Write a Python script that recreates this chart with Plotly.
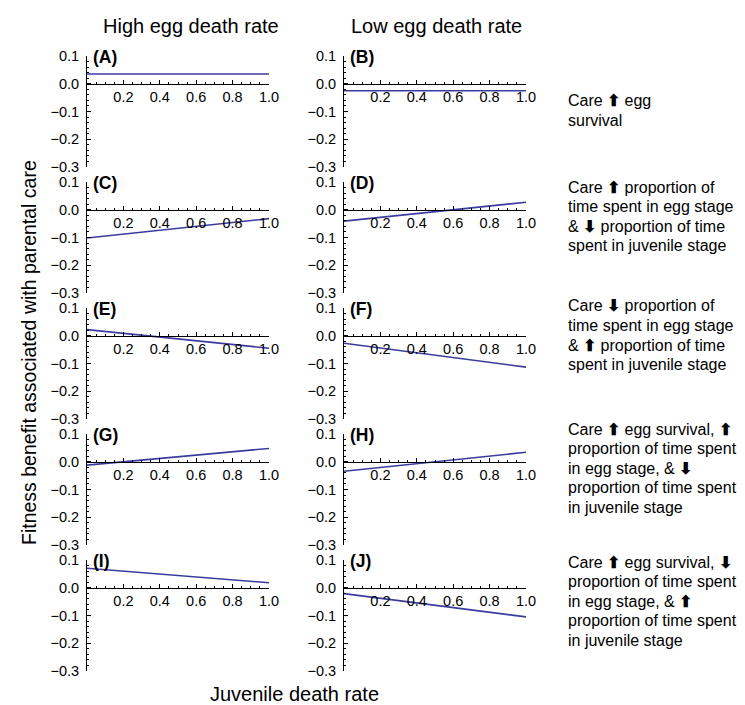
import plotly.graph_objects as go

# ---- data ----
juvenile_death_rate = [0.0, 0.5, 1.0]
panel_labels = ["(A)", "(B)", "(C)", "(D)", "(E)", "(F)", "(G)", "(H)", "(I)", "(J)"]
panel_A = [0.035, 0.035, 0.035]
panel_B = [-0.025, -0.025, -0.025]
panel_C = [-0.102, -0.068, -0.032]
panel_D = [-0.041, -0.007, 0.027]
panel_E = [0.022, -0.012, -0.045]
panel_F = [-0.027, -0.070, -0.113]
panel_G = [-0.012, 0.018, 0.048]
panel_H = [-0.034, 0.000, 0.034]
panel_I = [0.070, 0.044, 0.018]
panel_J = [-0.021, -0.062, -0.105]
series = [panel_A, panel_B, panel_C, panel_D, panel_E,
          panel_F, panel_G, panel_H, panel_I, panel_J]

column_titles = ["High egg death rate", "Low egg death rate"]
x_tick_vals = [0.2, 0.4, 0.6, 0.8, 1.0]
x_tick_text = ["0.2", "0.4", "0.6", "0.8", "1.0"]
y_tick_vals = [-0.3, -0.2, -0.1, 0.0, 0.1]
y_tick_text = ["\u22120.3", "\u22120.2", "\u22120.1", "0.0", "0.1"]
UP = "<b>\u2b06</b>"
DN = "<b>\u2b07</b>"
row_notes = [
    [f"Care {UP} egg", "survival"],
    [f"Care {UP} proportion of", "time spent in egg stage",
     f"& {DN} proportion of time", "spent in juvenile stage"],
    [f"Care {DN} proportion of", "time spent in egg stage",
     f"& {UP} proportion of time", "spent in juvenile stage"],
    [f"Care {UP} egg survival, {UP}", "proportion of time spent",
     f"in egg stage, & {DN}", "proportion of time spent", "in juvenile stage"],
    [f"Care {UP} egg survival, {DN}", "proportion of time spent",
     f"in egg stage, & {UP}", "proportion of time spent", "in juvenile stage"],
]

# ---- layout geometry (pixels) ----
W, H = 745, 705
FONT = "Liberation Sans, Arial, Helvetica, sans-serif"
col_x0 = [79, 336]
col_x1 = [261, 518]
panel_top0 = 48
panel_pitch = 126
panel_h = 111
note_first_line = [93, 179, 298, 421, 554]
note_line_gap = 19.5
LINE_COLOR = "#3b3b9e"

fig = go.Figure()
layout = dict(
    width=W, height=H,
    margin=dict(l=0, r=0, t=0, b=0, autoexpand=False),
    paper_bgcolor="white", plot_bgcolor="white",
    showlegend=False,
    font=dict(family=FONT, color="black"),
)

annotations = []
minor_x = [round(0.05 * k, 2) for k in range(1, 21)]
minor_y = [round(-0.3 + 0.02 * k, 2) for k in range(0, 21)]

for i, vals in enumerate(series):
    r, c = divmod(i, 2)
    top = panel_top0 + panel_pitch * r
    bot = top + panel_h
    zero_px = top + panel_h * 0.25
    xs = "" if i == 0 else str(i + 1)
    xname, yname = "xaxis" + xs, "yaxis" + xs
    xref, yref = "x" + xs, "y" + xs
    layout[xname] = dict(
        domain=[col_x0[c] / W, col_x1[c] / W], range=[0, 1],
        anchor="free", position=1 - zero_px / H,
        tickmode="array", tickvals=x_tick_vals, ticktext=x_tick_text,
        ticks="inside", ticklen=4, tickwidth=1, tickcolor="black",
        minor=dict(tickmode="array", tickvals=minor_x, ticks="inside", ticklen=2,
                   tickcolor="black", tickwidth=1, showgrid=False),
        showline=True, linecolor="black", linewidth=1,
        showgrid=False, zeroline=False,
        tickfont=dict(size=14.5, family=FONT, color="black"),
        fixedrange=True,
    )
    layout[yname] = dict(
        domain=[1 - bot / H, 1 - top / H], range=[-0.3, 0.1],
        anchor=xref,
        tickmode="array", tickvals=y_tick_vals, ticktext=y_tick_text,
        ticks="inside", ticklen=4, tickwidth=1, tickcolor="black",
        minor=dict(tickmode="array", tickvals=minor_y, ticks="inside", ticklen=2,
                   tickcolor="black", tickwidth=1, showgrid=False),
        showline=True, linecolor="black", linewidth=1,
        showgrid=False, zeroline=False, ticklabelstandoff=4,
        tickfont=dict(size=14.5, family=FONT, color="black"),
        fixedrange=True,
    )
    fig.add_trace(go.Scatter(
        x=juvenile_death_rate, y=vals, mode="lines",
        line=dict(color=LINE_COLOR, width=1.6),
        xaxis=xref, yaxis=yref, hoverinfo="skip",
    ))
    annotations.append(dict(
        text=f"<b>{panel_labels[i]}</b>", x=(col_x0[c] + 4) / W, y=1 - (top + 1) / H,
        xref="paper", yref="paper", xanchor="left", yanchor="middle",
        showarrow=False, font=dict(size=17.5, family=FONT, color="black"),
    ))

for c, t in enumerate(column_titles):
    annotations.append(dict(
        text=t, x=[183, 428][c] / W, y=1 - 18 / H, xref="paper", yref="paper",
        xanchor="center", yanchor="middle", showarrow=False,
        font=dict(size=20, family=FONT, color="black"),
    ))

for lines, y0 in zip(row_notes, note_first_line):
    for j, line in enumerate(lines):
        annotations.append(dict(
            text=line, x=558 / W, y=1 - (y0 + j * note_line_gap) / H,
            xref="paper", yref="paper",
            xanchor="left", yanchor="middle", align="left", showarrow=False,
            font=dict(size=16, family=FONT, color="black"),
        ))

annotations.append(dict(
    text="Fitness benefit associated with parental care", x=21 / W, y=1 - 345 / H,
    xref="paper", yref="paper", xanchor="center", yanchor="middle",
    textangle=-90, showarrow=False, font=dict(size=19.5, family=FONT, color="black"),
))
annotations.append(dict(
    text="Juvenile death rate", x=286 / W, y=1 - 686 / H,
    xref="paper", yref="paper", xanchor="center", yanchor="middle",
    showarrow=False, font=dict(size=20, family=FONT, color="black"),
))

layout["annotations"] = annotations
fig.update_layout(**layout)
fig.write_html("out.html")
